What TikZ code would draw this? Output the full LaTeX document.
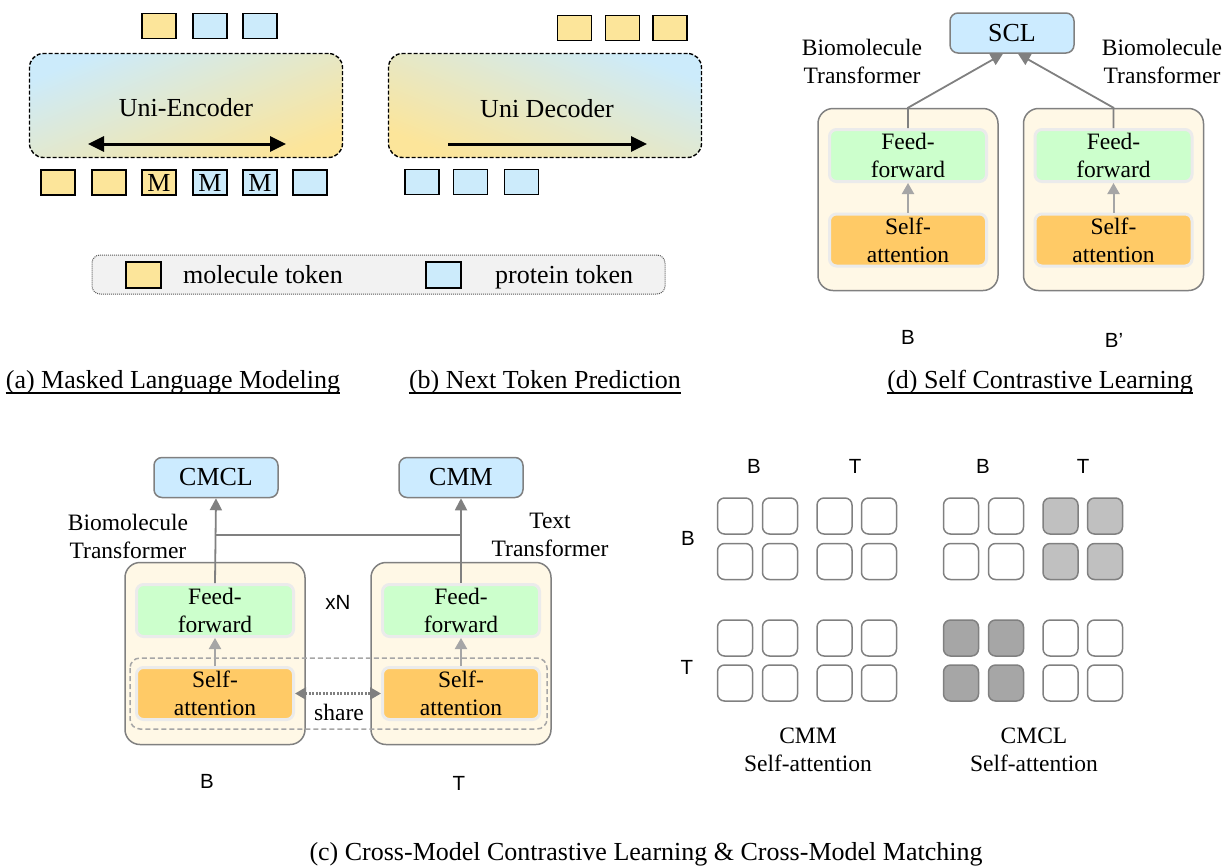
\documentclass[tikz,border=0pt]{standalone}
\usepackage{fontspec}
\setmainfont{Liberation Serif}
\setsansfont{Liberation Sans}
\usetikzlibrary{positioning, arrows.meta, calc}

\definecolor{molY}{HTML}{FCE59A}
\definecolor{proB}{HTML}{CCEBFB}
\definecolor{blockB}{HTML}{CCEBFF}
\definecolor{ffG}{HTML}{CCFFCC}
\definecolor{saO}{HTML}{FFCA66}
\definecolor{creamY}{HTML}{FFF8E6}
\definecolor{lineG}{HTML}{808080}
\definecolor{arrG}{HTML}{A6A6A6}
\definecolor{legG}{HTML}{F2F2F2}
\definecolor{cell0}{HTML}{FFFFFF}
\definecolor{cell1}{HTML}{C0C0C0}
\definecolor{cell2}{HTML}{A6A6A6}

\newcommand\bigtxt{\fontsize{26}{30}\selectfont}
\newcommand\midtxt{\fontsize{23.5}{28}\selectfont}
\newcommand\sanstxt{\fontsize{20.5}{24}\selectfont\sffamily}

\tikzset{
  tok/.style={draw=black, line width=1.3pt, minimum width=34pt, minimum height=25pt, inner sep=0pt, font=\bigtxt},
  mol/.style={tok, fill=molY},
  pro/.style={tok, fill=proB},
  unibox/.style={draw=black, dash pattern=on 4pt off 2pt, line width=1.4pt, rounded corners=14pt, minimum width=313pt, minimum height=104pt},
  bighead/.style={line width=3pt, arrows={-{Triangle[length=16pt,width=15pt]}}},
  lossbox/.style={draw=lineG, fill=blockB, line width=1.5pt, rounded corners=8pt, minimum width=124pt, minimum height=40pt, font=\bigtxt},
  outer/.style={draw=lineG, fill=creamY, line width=1.5pt, rounded corners=15pt, minimum width=180pt, minimum height=182pt},
  layer/.style={draw=black!8, line width=3pt, rounded corners=7pt, minimum width=157pt, minimum height=52pt, align=center, font=\midtxt, inner sep=0pt},
  ff/.style={layer, fill=ffG},
  sa/.style={layer, fill=saO},
  lbl/.style={align=center, font=\midtxt, inner sep=0pt},
  tag/.style={font=\sanstxt, inner sep=0pt},
  captxt/.style={font=\bigtxt, inner sep=0pt, anchor=base},
  uline/.style={line width=1.3pt},
  cell/.style={draw=lineG, line width=1.5pt, rounded corners=7pt, minimum width=35pt, minimum height=36pt, inner sep=0pt},
  gline/.style={draw=lineG, line width=1.8pt},
  garrow/.style={gline, -{Triangle[length=12pt,width=12pt]}},
  uparrow/.style={draw=arrG, line width=2pt, -{Triangle[length=11pt,width=12pt]}}
}

\begin{document}
\begin{tikzpicture}[x=1pt, y=-1pt]
\useasboundingbox (0,0) rectangle (1225,865);

% (a) masked language modeling
\node[unibox, left color=proB, right color=molY, shading angle=22] (enc) at (186,105.5) {};
\node[font=\bigtxt, anchor=base] (encT) at (186,116) {Uni-Encoder};
\foreach \x/\s [count=\i] in {159/mol,210/pro,260/pro}
  \node[\s] (encO\i) at (\x,26) {};
\foreach \x/\s/\t [count=\i] in {58/mol/,109/mol/,159/mol/M,210/pro/M,260/pro/M,310/pro/}
  \node[\s] (encI\i) at (\x,182.5) {\t};
\coordinate (encL) at (88,144);
\coordinate (encR) at (286,144);
\draw[line width=3pt, {Triangle[length=16pt,width=15pt]}-{Triangle[length=16pt,width=15pt]}] (encL) -- (encR);

% (b) next token prediction
\node[unibox, left color=molY, right color=proB, shading angle=158] (dec) at (545,105.5) {};
\node[font=\bigtxt, anchor=base] (decT) at (547,117) {Uni Decoder};
\foreach \x [count=\i] in {574.5,622.5,670}
  \node[mol] (decO\i) at (\x,28) {};
\foreach \x [count=\i] in {422,470.5,521.5}
  \node[pro] (decI\i) at (\x,182) {};
\coordinate (decL) at (448,144);
\coordinate (decR) at (647,144);
\draw[bighead] (decL) -- (decR);

% legend
\node[draw=black!65, fill=legG, densely dotted, line width=1pt, rounded corners=8pt,
      minimum width=573pt, minimum height=39pt] (legend) at (378.5,274.5) {};
\node[mol, minimum width=35pt, minimum height=26pt] (legM) at (143.5,275) {};
\node[font=\bigtxt, anchor=base west, inner sep=0pt] (legMT) at (183,283) {molecule token};
\node[pro, minimum width=35pt, minimum height=26pt] (legP) at (443.5,275) {};
\node[font=\bigtxt, anchor=base west, inner sep=0pt] (legPT) at (495,283) {protein token};

% (d) self contrastive learning
\node[lossbox] (scl) at (1012,33) {SCL};
\foreach \s/\x in {L/908,R/1113.5} {
  \node[outer] (outd\s) at (\x,199.5) {};
  \node[ff] (ffd\s) at (\x,155.5) {Feed-\\forward};
  \node[sa] (sad\s) at (\x,240) {Self-\\attention};
  \draw[uparrow] (sad\s) -- (ffd\s);
}
\draw[garrow] (ffdL.north) -- (outdL.north) -- ([xshift=-9pt]scl.south);
\draw[garrow] (ffdR.north) -- (outdR.north) -- ([xshift=6pt]scl.south);
\node[lbl] (biodL) at (862,61) {Biomolecule\\Transformer};
\node[lbl] (biodR) at (1162,61) {Biomolecule\\Transformer};
\node[tag] (tagdL) at (908,337) {B};
\node[tag] (tagdR) at (1114,340) {B’};

% (c) cross-model contrastive learning & matching
\node[lossbox] (cmcl) at (216,477.5) {CMCL};
\node[lossbox] (cmm) at (461,477.5) {CMM};
\foreach \s/\x in {L/215,R/461} {
  \node[outer] (outc\s) at (\x,653.5) {};
  \node[ff] (ffc\s) at (\x,610.5) {Feed-\\forward};
  \node[sa] (sac\s) at (\x,693.5) {Self-\\attention};
  \draw[uparrow] (sac\s) -- (ffc\s);
}
\draw[draw=arrG, line width=1.5pt, dash pattern=on 5pt off 3pt, rounded corners=10pt]
  (130,658) rectangle (547,729);
\draw[garrow] (ffcL.north) -- (cmcl.south);
\draw[garrow] (ffcR.north) -- (cmm.south);
\coordinate (jn) at (0,535);
\draw[gline] (ffcL.north |- jn) -- (ffcR.north |- jn);
\draw[draw=lineG, line width=2.5pt, dash pattern=on 2pt off 1.5pt,
      {Triangle[length=11pt,width=12pt]}-{Triangle[length=11pt,width=12pt]}] (sacL.east) -- (sacR.west);
\node[lbl] (share) at (339,712) {share};
\node[tag] (rep) at (338,602) {xN};
\node[lbl] (biocL) at (128,536) {Biomolecule\\Transformer};
\node[lbl] (txtcR) at (550,534.5) {Text\\Transformer};
\node[tag] (tagcL) at (207,781) {B};
\node[tag] (tagcR) at (459,783) {T};

% attention masks
\foreach \ci/\c in {1/735,2/780,3/834.5,4/879}
  \foreach \ri/\r in {1/516,2/561.5,3/638,4/683} {
    \node[cell] (cmm-\ri-\ci) at (\c,\r) {};
    \pgfmathtruncatemacro\blk{(\ci>2)*(\ri<3) + 2*(\ci<3)*(\ri>2)}
    \node[cell, fill=cell\blk] (cmcl-\ri-\ci) at (\c+226,\r) {};
  }
\foreach \x/\t [count=\i] in {754/B,855/T,983/B,1083/T}
  \node[tag] (col\i) at (\x,466) {\t};
\node[tag] (rowB) at (688,538) {B};
\node[tag] (rowT) at (687,667) {T};
\node[lbl] (cmmT) at (808,750) {CMM\\Self-attention};
\node[lbl] (cmclT) at (1034,750) {CMCL\\Self-attention};

% captions
\node[captxt] (capA) at (173,388) {(a) Masked Language Modeling};
\node[captxt] (capB) at (545,388) {(b) Next Token Prediction};
\node[captxt] (capD) at (1040,388) {(d) Self Contrastive Learning};
\foreach \c in {capA,capB,capD}
  \draw[uline] ([yshift=-5pt]\c.base west) -- ([yshift=-5pt]\c.base east);
\node[captxt] (capC) at (646,860) {(c) Cross-Model Contrastive Learning \& Cross-Model Matching};
\end{tikzpicture}
\end{document}
